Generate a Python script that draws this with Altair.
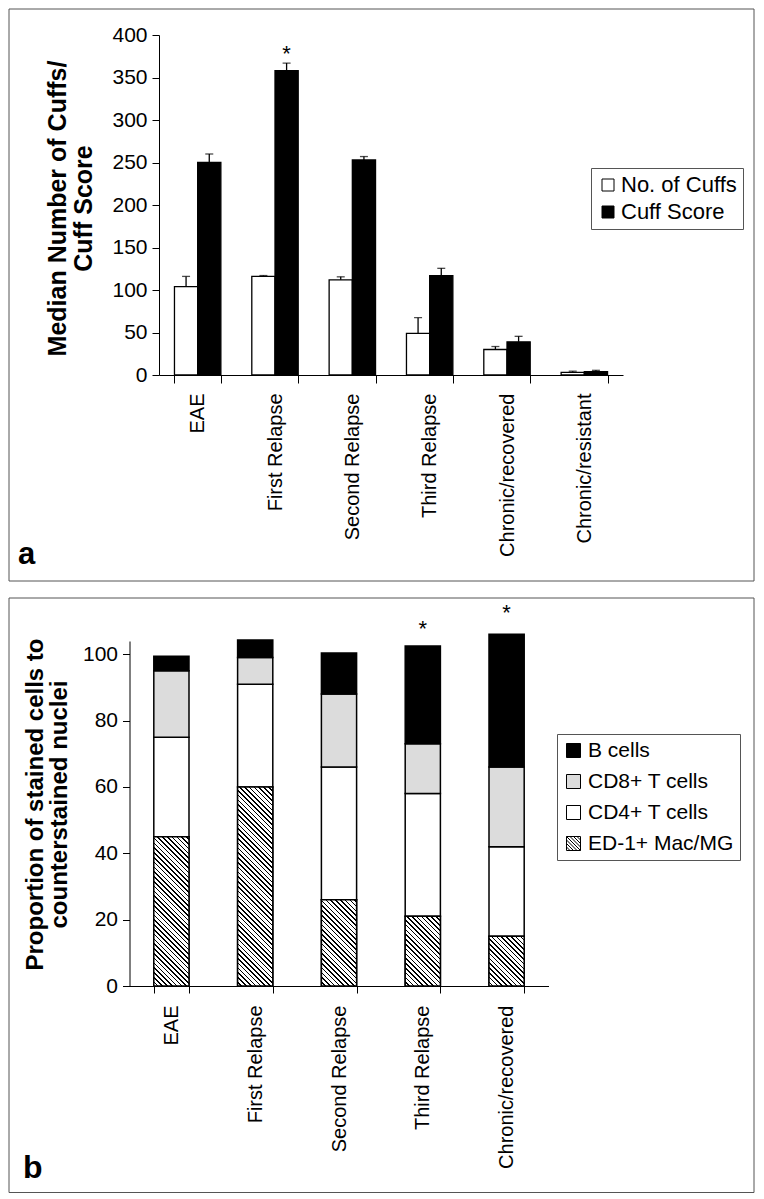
import math
import altair as alt
import pandas as pd

FONT = "Liberation Sans, Arial, sans-serif"

# ---------------- Panel a data ----------------
cats_a = ["EAE", "First Relapse", "Second Relapse", "Third Relapse",
          "Chronic/recovered", "Chronic/resistant"]
series_a = ["No. of Cuffs", "Cuff Score"]
cuffs = [104, 116, 112, 49, 30, 3]
cuffs_err = [12, 1, 3.5, 18.5, 3.5, 1.5]
score = [250, 358, 253, 117, 39, 4]
score_err = [10, 9, 4, 8.5, 6.5, 1.5]
star_a_cat = ["First Relapse"]
star_a_series = ["Cuff Score"]
star_a_y = [382]

# ---------------- Panel b data ----------------
cats_b = ["EAE", "First Relapse", "Second Relapse", "Third Relapse",
          "Chronic/recovered"]
series_b = ["B cells", "CD8+ T cells", "CD4+ T cells", "ED-1+ Mac/MG"]
ed1 = [45, 60, 26, 21, 15]
cd4 = [30, 31, 40, 37, 27]
cd8 = [20, 8, 22, 15, 24]
bcells = [4.4, 5.3, 12.4, 29.5, 40]
star_b_cats = ["Third Relapse", "Chronic/recovered"]
star_b_y = [108.4, 113.2]

# ---------------- tables ----------------
rows_a = []
for i, c in enumerate(cats_a):
    rows_a.append({"cat": c, "sa": series_a[0], "value": cuffs[i],
                   "upper": cuffs[i] + cuffs_err[i]})
    rows_a.append({"cat": c, "sa": series_a[1], "value": score[i],
                   "upper": score[i] + score_err[i]})
df_a = pd.DataFrame(rows_a)
df_star_a = pd.DataFrame({"cat": star_a_cat, "sa": star_a_series, "value": star_a_y})

rows_b = []
for i, c in enumerate(cats_b):
    for s, arr, o in [("ED-1+ Mac/MG", ed1, 0), ("CD4+ T cells", cd4, 1),
                      ("CD8+ T cells", cd8, 2), ("B cells", bcells, 3)]:
        rows_b.append({"cat": c, "sb": s, "value": arr[i], "ord": o})
df_b = pd.DataFrame(rows_b)
df_ed = pd.DataFrame({"cat": cats_b, "value": ed1})
df_star_b = pd.DataFrame({"cat": star_b_cats, "value": star_b_y})
one = pd.DataFrame({"d": [0]})

# ---------------- Panel a ----------------
W_A, H_A = 464, 340
xa = alt.X("cat:N", sort=cats_a,
           scale=alt.Scale(domain=cats_a, paddingInner=0.4, paddingOuter=0.2),
           axis=alt.Axis(title=None, labelAngle=-90, labelFontSize=20,
                         tickBand="extent", tickSize=8, labelPadding=10))
xoa = alt.XOffset("sa:N", scale=alt.Scale(domain=series_a, paddingInner=0, paddingOuter=0))
ya_axis = alt.Axis(values=list(range(0, 401, 50)), tickSize=7, labelPadding=5,
                   labelFontSize=21, title=["Median Number of Cuffs/", "Cuff Score"],
                   titleFontSize=25, titleFontWeight="bold", titleAngle=-90,
                   titleX=-102, titleY=173, titleBaseline="middle", titleAlign="center",
                   titleLineHeight=26)
ya_scale = alt.Scale(domain=[0, 400], nice=False)

frame_a = alt.Chart(one).mark_rect(fill="transparent", stroke="#555", strokeWidth=1).encode(
    x=alt.value(-150), x2=alt.value(595), y=alt.value(-26), y2=alt.value(546))
bars_a = alt.Chart(df_a).mark_bar(stroke="black", strokeWidth=1.3).encode(
    x=xa, xOffset=xoa,
    y=alt.Y("value:Q", scale=ya_scale, axis=ya_axis),
    fill=alt.Fill("sa:N", scale=alt.Scale(domain=series_a, range=["white", "black"]),
                  legend=alt.Legend(title=None, orient="none", legendX=432, legendY=133,
                                    strokeColor="#555", fillColor="white", padding=6,
                                    labelFontSize=22, labelFont=FONT, symbolType="square",
                                    symbolSize=144, symbolStrokeColor="black",
                                    symbolStrokeWidth=1, rowPadding=5, labelOffset=2)))
err_a = alt.Chart(df_a).mark_rule(color="black", strokeWidth=1.3).encode(
    x=xa, xOffset=xoa,
    y=alt.Y("value:Q", scale=ya_scale, axis=ya_axis), y2="upper:Q")
cap_a = alt.Chart(df_a).mark_tick(color="black", thickness=1.3, size=8).encode(
    x=xa, xOffset=xoa, y=alt.Y("upper:Q", scale=ya_scale, axis=ya_axis))
star_a = alt.Chart(df_star_a).mark_text(text="*", fontSize=22, font=FONT, baseline="alphabetic",
                                        dy=11, color="black").encode(
    x=xa, xOffset=xoa, y=alt.Y("value:Q", scale=ya_scale, axis=ya_axis))
lab_a = alt.Chart(one).mark_text(text="a", fontSize=31, fontWeight="bold", font=FONT,
                                 align="left", baseline="alphabetic").encode(
    x=alt.value(-141), y=alt.value(529))

panel_a = alt.layer(frame_a, bars_a, err_a, cap_a, star_a, lab_a).properties(width=W_A, height=H_A)

# ---------------- Panel b ----------------
# plot origin shares the x of panel a; the band range is shifted left to the y axis
SHIFT_B = 29.5
W_B, H_B = 390, 345
DOM_B = 104
PAD_B = 0.58
xb = alt.X("cat:N", sort=cats_b,
           scale=alt.Scale(domain=cats_b, range=[-SHIFT_B, W_B - 0.5],
                           paddingInner=PAD_B, paddingOuter=PAD_B / 2),
           axis=alt.Axis(title=None, labelAngle=-90, labelFontSize=20,
                         tickBand="extent", tickSize=7, labelPadding=12))
yb_axis = alt.Axis(values=list(range(0, 101, 20)), tickSize=7, labelPadding=5,
                   labelFontSize=21, offset=SHIFT_B,
                   title=["Proportion of stained cells to", "counterstained nuclei"],
                   titleFontSize=24, titleFontWeight="bold", titleAngle=-90,
                   titleX=-94.5, titleY=163, titleBaseline="middle", titleAlign="center",
                   titleLineHeight=24)
yb_scale = alt.Scale(domain=[0, DOM_B], nice=False)
yb = alt.Y("value:Q", scale=yb_scale, axis=yb_axis, stack="zero")

HATCH = ("M-1,-1H1V1H-1Z M-1,-1L1,1 M-0.5,-1L1,0.5 M0,-1L1,0 M0.5,-1L1,-0.5 "
         "M-1,-0.5L0.5,1 M-1,0L0,1 M-1,0.5L-0.5,1")
legend_b = alt.Legend(title=None, orient="none", legendX=398, legendY=93,
                      strokeColor="#555", fillColor="white", padding=6,
                      labelFontSize=21, labelFont=FONT, symbolSize=196,
                      symbolStrokeColor="black", symbolStrokeWidth=1,
                      rowPadding=9, labelOffset=4)
fill_b = alt.Fill("sb:N",
                  scale=alt.Scale(domain=series_b, range=["black", "#dcdcdc", "white", "white"]),
                  legend=legend_b)

frame_b = alt.Chart(one).mark_rect(fill="transparent", stroke="#555", strokeWidth=1).encode(
    x=alt.value(-150), x2=alt.value(595), y=alt.value(-43), y2=alt.value(551.5))
bars_b = alt.Chart(df_b).mark_bar(stroke="black", strokeWidth=1.5).encode(
    x=xb, y=yb, fill=fill_b, order=alt.Order("ord:Q"))
leg_b = alt.Chart(df_b).transform_filter("false").mark_point(
    filled=True, stroke="black", strokeWidth=1, opacity=1).encode(
    x=xb, y=yb, fill=fill_b,
    shape=alt.Shape("sb:N",
                    scale=alt.Scale(domain=series_b, range=["square", "square", "square", HATCH]),
                    legend=legend_b))


def hatch_gradient(w, h, period=4.8, frac=0.32):
    n = (w + h) / period
    s = (w + h) / (w * w + h * h)
    stops = []
    for k in range(int(math.ceil(n))):
        a = min(k / n, 1.0)
        b = min((k + 1 - frac) / n, 1.0)
        c = min((k + 1) / n, 1.0)
        stops += [alt.GradientStop(color="white", offset=round(a, 5)),
                  alt.GradientStop(color="white", offset=round(b, 5)),
                  alt.GradientStop(color="black", offset=round(b, 5)),
                  alt.GradientStop(color="black", offset=round(c, 5))]
    return alt.LinearGradient(gradient="linear", stops=stops, x1=0, y1=1,
                              x2=round(s * w, 5), y2=round(1 - s * h, 5))


step_b = (W_B - 0.5 + SHIFT_B) / len(cats_b)
bw_b = step_b * (1 - PAD_B)
pxu = H_B / DOM_B
hatch_layers = []
for i, c in enumerate(cats_b):
    g = hatch_gradient(bw_b, ed1[i] * pxu)
    hatch_layers.append(
        alt.Chart(df_ed).transform_filter(alt.datum.cat == c).mark_bar(
            fill=g, stroke="black", strokeWidth=1.5).encode(x=xb, y=yb))

star_b = alt.Chart(df_star_b).mark_text(text="*", fontSize=22, font=FONT, baseline="alphabetic",
                                        dy=10, color="black").encode(
    x=xb, y=alt.Y("value:Q", scale=yb_scale, axis=yb_axis))
lab_b = alt.Chart(one).mark_text(text="b", fontSize=32, fontWeight="bold", font=FONT,
                                 align="left", baseline="alphabetic").encode(
    x=alt.value(-136), y=alt.value(536.5))

panel_b = alt.layer(frame_b, bars_b, *hatch_layers, leg_b, star_b, lab_b).properties(
    width=W_B, height=H_B)

chart = alt.vconcat(panel_a, panel_b, spacing=15).resolve_scale(
    fill="independent", shape="independent"
).resolve_legend(
    fill="independent", shape="independent"
).properties(
    padding=0, background="white"
).configure_view(stroke=None).configure_axis(
    domainColor="black", tickColor="black", labelColor="black", titleColor="black",
    labelFont=FONT, titleFont=FONT, grid=False, domainWidth=1, tickWidth=1
).configure_legend(labelColor="black")

chart.save("out.html", embed_options={"renderer": "svg", "actions": False})
